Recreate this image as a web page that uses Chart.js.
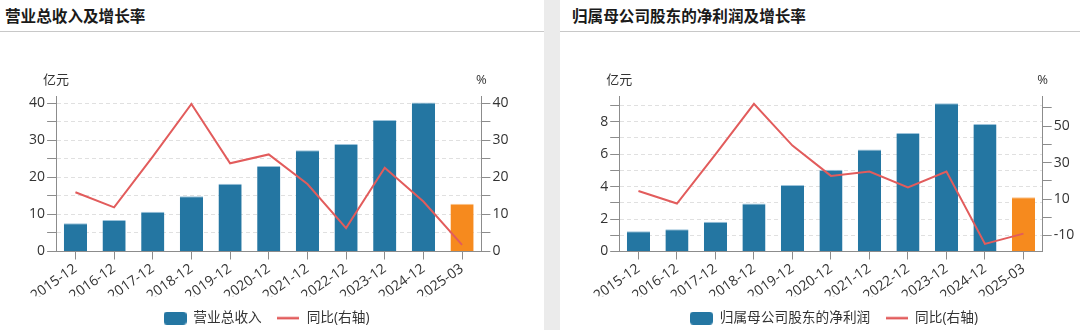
<!DOCTYPE html>
<html><head><meta charset="utf-8">
<script src="https://cdn.jsdelivr.net/npm/chart.js@4.4.1/dist/chart.umd.min.js"></script>
<style>
html,body{margin:0;padding:0;width:1080px;height:330px;overflow:hidden;background:#fff;font-family:"Noto Sans CJK SC",sans-serif;}
.sep{position:absolute;left:544px;top:0;width:16px;height:330px;background:#ebebeb;}
.title{position:absolute;top:4px;font-weight:bold;font-size:15.6px;color:#1a1a1a;line-height:22px;white-space:nowrap;}
.rule{position:absolute;top:31px;height:1px;background:#c8c8c8;}
.cv{position:absolute;top:40px;height:295px;}
</style></head><body>
<div class="sep"></div>
<div class="title" style="left:5px">营业总收入及增长率</div>
<div class="rule" style="left:0;width:544px"></div>
<div class="title" style="left:572px">归属母公司股东的净利润及增长率</div>
<div class="rule" style="left:560px;width:520px"></div>
<div class="cv" style="left:0;width:544px"><canvas id="c1"></canvas></div>
<div class="cv" style="left:560px;width:520px"><canvas id="c2"></canvas></div>
<script>
// ---------- data ----------
const categories = ['2015-12','2016-12','2017-12','2018-12','2019-12','2020-12','2021-12','2022-12','2023-12','2024-12','2025-03'];
const revenue    = [7.6, 8.5, 10.7, 14.9, 18.3, 23.1, 27.3, 29.0, 35.5, 40.2, 12.9];
const revenueYoY = [16.0, 11.9, 25.6, 39.8, 23.8, 26.2, 18.2, 6.3, 22.6, 13.5, 1.8];
const profit     = [1.25, 1.37, 1.83, 2.95, 4.10, 5.03, 6.28, 7.30, 9.13, 7.86, 3.34];
const profitYoY  = [14.4, 7.5, 34.5, 62.2, 39.3, 22.7, 25.1, 16.3, 25.1, -14.6, -9.0];
const revenueAxisLabels   = [0, 10, 20, 30, 40];
const revenueYoYLabels    = [0, 10, 20, 30, 40];
const profitAxisLabels    = [0, 2, 4, 6, 8];
const profitYoYLabels     = [-10, 10, 30, 50];

// ---------- styles ----------
const FONT = '"Open Sans","Noto Sans CJK SC",sans-serif';
const BLUE = '#2476a2', BLUE_EDGE = '#9cc3da';
const ORANGE = '#f68a1e', ORANGE_EDGE = '#fbc38c';
const RED = '#e25c5c';
const AXIS = '#8c8c8c', GRID = '#e0e0e0';
const XH = 44.8;
const TICK_FONT = 14;
Chart.defaults.font.family = FONT;
Chart.defaults.color = '#333';

function glyph(kind, color) {
  const c = document.createElement('canvas');
  if (kind === 'box') {
    c.width = 23; c.height = 13;
    const x = c.getContext('2d'); const r = 3.5, w = 23, h = 13;
    x.fillStyle = color; x.beginPath();
    x.moveTo(r,0); x.lineTo(w-r,0); x.arcTo(w,0,w,r,r); x.lineTo(w,h-r); x.arcTo(w,h,w-r,h,r);
    x.lineTo(r,h); x.arcTo(0,h,0,h-r,r); x.lineTo(0,r); x.arcTo(0,0,r,0,r); x.closePath(); x.fill();
  } else {
    c.width = 22; c.height = 4;
    const x = c.getContext('2d'); x.strokeStyle = color; x.lineWidth = 2.5;
    x.beginPath(); x.moveTo(0,2); x.lineTo(22,2); x.stroke();
  }
  return c;
}

const axisTitles = {
  id: 'axisTitles',
  afterDraw(chart, args, opts) {
    const {ctx, chartArea} = chart;
    ctx.save();
    ctx.font = '13px ' + FONT; ctx.fillStyle = '#333';
    ctx.textAlign = 'center'; ctx.textBaseline = 'middle';
    ctx.fillText(opts.left, chartArea.left, opts.y);
    ctx.fillText(opts.right, chartArea.right, opts.y);
    ctx.restore();
  }
};

function stepFilter(step) {
  return s => { s.ticks = s.ticks.filter(t => Math.abs(t.value / step - Math.round(t.value / step)) < 1e-6); };
}

function makeChart(id, o) {
  const isQuarter = categories.map(c => !c.endsWith('-12'));
  return new Chart(document.getElementById(id), {
    data: {
      labels: categories,
      datasets: [
        {type: 'bar', label: o.barLabel, data: o.bars, yAxisID: 'y',
         backgroundColor: isQuarter.map(q => q ? ORANGE : BLUE),
         borderColor: isQuarter.map(q => q ? ORANGE_EDGE : BLUE_EDGE),
         borderWidth: {top: 1, left: 0, right: 0, bottom: 0}, borderSkipped: 'bottom',
         barPercentage: 0.6, categoryPercentage: 1, order: 2},
        {type: 'line', label: '同比(右轴)', data: o.line, yAxisID: 'y1',
         borderColor: RED, borderWidth: 2, pointRadius: 0, pointHoverRadius: 0,
         tension: 0, fill: false, order: 1}
      ]
    },
    plugins: [axisTitles],
    options: {
      responsive: true, maintainAspectRatio: false, animation: false,
      layout: {padding: {top: o.top, left: o.padL, right: o.padR, bottom: 0}},
      plugins: {
        tooltip: {enabled: false},
        axisTitles: {left: '亿元', right: '%', y: 40},
        legend: {
          position: 'bottom',
          labels: {
            usePointStyle: true, pointStyleWidth: 23, boxHeight: 13, padding: 15,
            color: '#333', font: {size: 13.7},
            generateLabels: chart => chart.data.datasets.map((ds, i) => ({
              text: ds.label, datasetIndex: i, hidden: false, fontColor: '#333',
              pointStyle: i === 0 ? glyph('box', BLUE) : glyph('line', RED),
              fillStyle: i === 0 ? BLUE : RED, strokeStyle: i === 0 ? BLUE : RED, lineWidth: 0
            }))
          }
        }
      },
      scales: {
        x: {
          type: 'category', offset: true,
          grid: {display: true, drawOnChartArea: false, drawTicks: true, tickLength: 8, tickColor: AXIS, offset: false},
          border: {color: AXIS, width: 1},
          ticks: {autoSkip: false, maxRotation: 35, minRotation: 35, padding: 1, font: {size: TICK_FONT}, color: '#333'},
          afterFit: s => { s.height = XH; }
        },
        y: {
          type: 'linear', position: 'left', min: 0, max: o.left.max,
          ticks: {stepSize: o.left.step, includeBounds: false, autoSkip: false, padding: 2, font: {size: TICK_FONT}, color: '#333',
                  callback: v => o.left.labels.includes(v) ? String(v) : ''},
          grid: {color: GRID, tickColor: AXIS, tickLength: 9, drawTicks: true},
          border: {color: AXIS, width: 1, dash: [4, 3]},
          afterBuildTicks: stepFilter(o.left.step),
          afterFit: s => { s.width = o.leftW; }
        },
        y1: {
          type: 'linear', position: 'right', min: o.right.min, max: o.right.max,
          ticks: {stepSize: o.right.step, includeBounds: false, autoSkip: false, padding: 2, font: {size: TICK_FONT}, color: '#333',
                  callback: v => o.right.labels.includes(v) ? String(v) : ''},
          grid: {drawOnChartArea: false, tickColor: AXIS, tickLength: 9, drawTicks: true},
          border: {color: AXIS, width: 1},
          afterBuildTicks: stepFilter(o.right.step),
          afterFit: s => { s.width = o.rightW; }
        }
      }
    }
  });
}

makeChart('c1', {
  barLabel: '营业总收入', bars: revenue, line: revenueYoY,
  left: {max: 41.8, step: 5, labels: revenueAxisLabels},
  right: {min: 0, max: 41.8, step: 5, labels: revenueYoYLabels},
  top: 56.6, padL: 0, padR: 11, leftW: 56.1, rightW: 51.6
});
makeChart('c2', {
  barLabel: '归属母公司股东的净利润', bars: profit, line: profitYoY,
  left: {max: 9.54, step: 1, labels: profitAxisLabels},
  right: {min: -18.8, max: 66.2, step: 10, labels: profitYoYLabels},
  top: 56.6, padL: 27.8, padR: 0, leftW: 31.4, rightW: 37.3
});
</script>
</body></html>
